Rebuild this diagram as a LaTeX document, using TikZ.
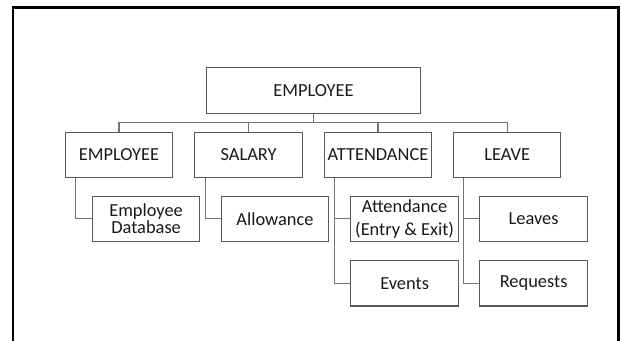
\documentclass[tikz,border=0pt]{standalone}
\usepackage{fontspec}
\setmainfont{Carlito}
\usetikzlibrary{positioning}

\tikzset{
  box/.style={draw=black!65, line width=0.8pt, minimum width=80.6pt, minimum height=34pt,
    inner sep=1pt, align=center, text=black!90, font=\fontsize{13.8}{14.5}\selectfont},
  link/.style={draw=black!55, line width=0.8pt}
}

\begin{document}
\begin{tikzpicture}[x=0.75pt,y=-0.75pt]
\useasboundingbox (0,0) rectangle (621,340);

% frame
\draw[line width=2pt] (13,350) -- (13,7.5) -- (618.5,7.5) -- (618.5,350);

% top node
\node[box, minimum width=161pt] (emp) at (313.5,90.5) {EMPLOYEE};

% second level
\node[box] (empl) at (119,154.7) {EMPLOYEE};
\node[box] (sal) at (248.6,154.7) {SALARY};
\node[box] (att) at (378,154.7) {ATTENDANCE};
\node[box] (lea) at (507.2,154.7) {LEAVE};

% third level
\node[box, font=\fontsize{13.8}{13}\selectfont] (db) at (146.1,218.8) {Employee\\Database};
\node[box] (allow) at (275,218.8) {Allowance};
\node[box, font=\fontsize{13.8}{17}\selectfont] (entry) at (404.6,218.8) {Attendance\\(Entry \& Exit)};
\node[box] (events) at (404.6,283.3) {Events};
\node[box] (leaves) at (533.6,218.8) {Leaves};
\node[box] (req) at (533.6,283.3) {Requests};

% bus
\coordinate (bus) at (313.5,122.7);
\draw[link] (emp.south) -- (bus);
\draw[link] (empl.north) |- (bus) -| (lea.north);
\foreach \n in {sal,att}
  \draw[link] (\n.north) -- (\n.north |- bus);

% trunks
\foreach \p in {empl,sal,att,lea}
  \coordinate (t\p) at ([xshift=8.25pt]\p.south west);
\foreach \p/\c in {empl/db, sal/allow, att/events, lea/req}
  \draw[link] (t\p) |- (\c.west);
\foreach \p/\c in {att/entry, lea/leaves}
  \draw[link] (\c.west -| t\p) -- (\c.west);

\end{tikzpicture}
\end{document}
